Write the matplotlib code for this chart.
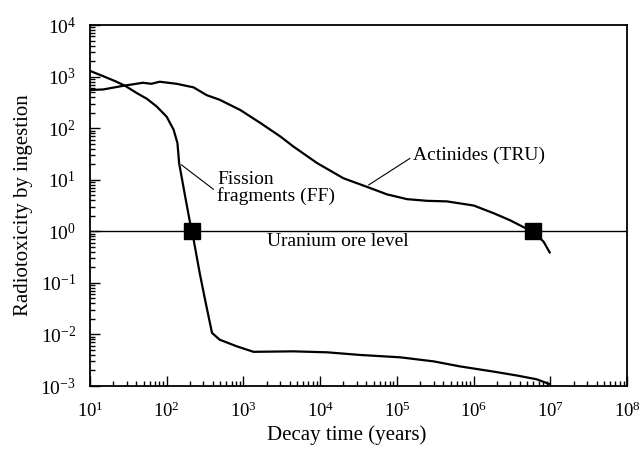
import matplotlib
matplotlib.use('Agg')
import matplotlib.pyplot as plt

plt.rcParams['font.family'] = ['Liberation Serif', 'DejaVu Serif']
plt.rcParams['mathtext.fontset'] = 'custom'
plt.rcParams['mathtext.rm'] = 'Liberation Serif'
plt.rcParams['mathtext.it'] = 'Liberation Serif:italic'

# Fission fragments (FF), years vs radiotoxicity
ff_years = [10, 14.8, 21.4, 28.8, 40.7, 55, 74, 100, 123, 138, 145, 174, 200, 214,
            269, 316, 389, 490, 813, 1350, 4470, 12300, 33100, 110000, 302000,
            661000, 1.82e6, 3.63e6, 6.61e6, 9.55e6]
ff_tox = [1290, 1020, 813, 661, 479, 372, 263, 166, 93, 51, 21, 4.7, 1.55, 1.0,
          0.155, 0.047, 0.0107, 0.0079, 0.0059, 0.0046, 0.0047, 0.0045, 0.0040,
          0.0036, 0.0030, 0.0024, 0.0019, 0.0016, 0.00135, 0.0011]

# Actinides (TRU)
tru_years = [10, 14.8, 26.9, 49, 63, 81, 135, 224, 331, 490, 912, 1660, 3020, 4470,
             9120, 20000, 26900, 44700, 74100, 135000, 245000, 447000, 1.0e6,
             1.82e6, 3.02e6, 4.47e6, 5.89e6, 8.13e6, 9.77e6]
tru_tox = [550, 562, 661, 759, 724, 794, 724, 617, 437, 355, 224, 126, 69, 44,
           21, 10.7, 9.1, 6.9, 5.2, 4.2, 3.9, 3.8, 3.16, 2.24, 1.62, 1.20, 1.0,
           0.63, 0.39]

ore_level = 1.0
cross_years = [215, 5.9e6]
cross_tox = [1.0, 1.0]

fig = plt.figure(figsize=(6.4, 4.53), dpi=100)
ax = fig.add_axes([0.1406, 0.1479, 0.8394, 0.7969])

ax.plot(ff_years, ff_tox, color='black', lw=1.6)
ax.plot(tru_years, tru_tox, color='black', lw=1.6)
ax.axhline(ore_level, color='black', lw=1.0)
ax.plot(cross_years, cross_tox, 's', color='black', markersize=11.5, zorder=5)

ax.set_xscale('log')
ax.set_yscale('log')
ax.set_xlim(10, 1e8)
ax.set_ylim(1e-3, 1e4)

ax.tick_params(which='both', direction='in', top=False, right=False, width=1.0)
ax.tick_params(which='major', length=7)
ax.tick_params(which='minor', length=3.5)
ax.tick_params(axis='x', pad=11, labelsize=13.5)
ax.tick_params(axis='y', pad=10, labelsize=14)
for s in ax.spines.values():
    s.set_linewidth(1.3)

ax.set_xlabel('Decay time (years)', fontsize=15)
ax.set_ylabel('Radiotoxicity by ingestion', fontsize=15)
ax.xaxis.set_label_coords(0.477, -0.108)
ax.yaxis.set_label_coords(-0.106, 0.5)

# labels with leader lines
ax.text(453, 15, 'Fission\nfragments (FF)', fontsize=14, ha='left', va='top',
        linespacing=0.95)
ax.annotate('', xy=(155, 19.5), xytext=(407, 6.5),
            arrowprops=dict(arrowstyle='-', lw=0.8, shrinkA=0, shrinkB=0))

ax.text(162000, 30, 'Actinides (TRU)', fontsize=14, ha='left', va='center')
ax.annotate('', xy=(42700, 7.9), xytext=(148000, 26),
            arrowprops=dict(arrowstyle='-', lw=0.8, shrinkA=0, shrinkB=0))

ax.text(2040, 0.93, 'Uranium ore level', fontsize=14, ha='left', va='top')

fig.savefig('out.png', dpi=100)
